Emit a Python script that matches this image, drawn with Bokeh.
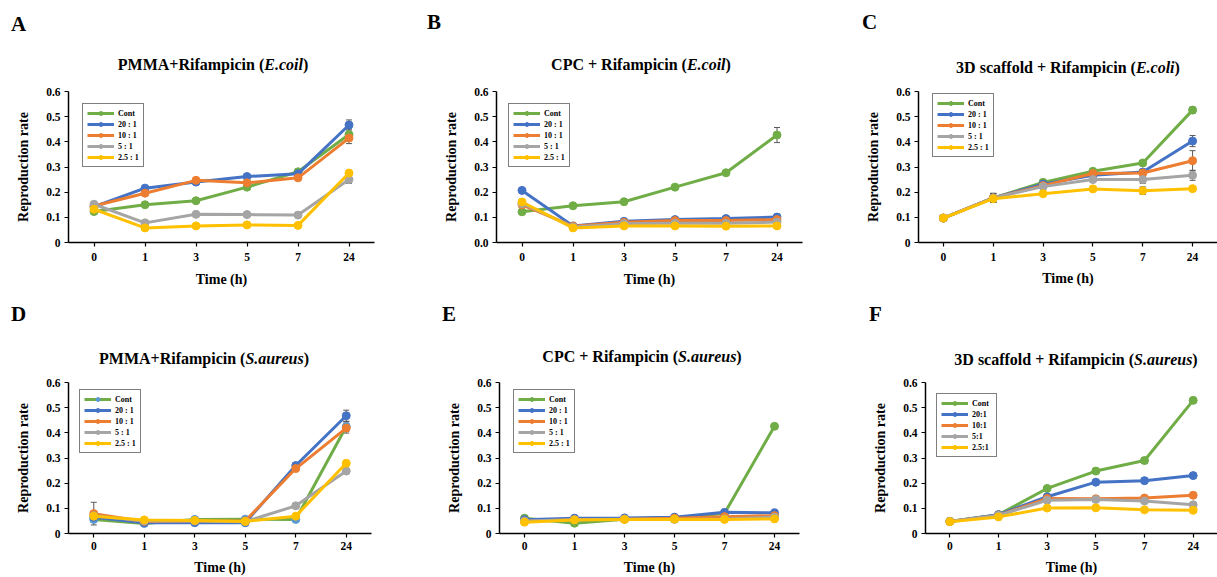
from bokeh.plotting import figure
from bokeh.models import (Range1d, FactorRange, FixedTicker, NumeralTickFormatter, Legend,
                          LegendItem, Whisker, ColumnDataSource, TeeHead, Div)
from bokeh.layouts import row, column
from bokeh.embed import file_html
from bokeh.resources import INLINE

# ---------------- data ----------------
times = ["0", "1", "3", "5", "7", "24"]
names = ["Cont", "20 : 1", "10 : 1", "5 : 1", "2.5 : 1"]
names_f = ["Cont", "20:1", "10:1", "5:1", "2.5:1"]
colors = ["#70AD47", "#4472C4", "#ED7D31", "#A5A5A5", "#FFC000"]
letters = ["A", "B", "C", "D", "E", "F"]
titles = [("PMMA+Rifampicin (", "E.coil", ")"),
          ("CPC + Rifampicin (", "E.coil", ")"),
          ("3D scaffold + Rifampicin (", "E.coli", ")"),
          ("PMMA+Rifampicin (", "S.aureus", ")"),
          ("CPC + Rifampicin (", "S.aureus", ")"),
          ("3D scaffold + Rifampicin (", "S.aureus", ")")]

# A: PMMA + Rifampicin (E.coli)
a_cont = [0.123, 0.150, 0.166, 0.220, 0.281, 0.429]
a_20 = [0.142, 0.216, 0.240, 0.262, 0.273, 0.467]
a_10 = [0.145, 0.196, 0.247, 0.237, 0.257, 0.415]
a_5 = [0.152, 0.078, 0.112, 0.111, 0.109, 0.250]
a_25 = [0.132, 0.058, 0.066, 0.070, 0.068, 0.276]
a_err = [[0.008, 0.005, 0.005, 0.006, 0.008, 0.022],
         [0.008, 0.005, 0.005, 0.005, 0.005, 0.020],
         [0.008, 0.005, 0.005, 0.008, 0.008, 0.022],
         [0.008, 0.005, 0.005, 0.005, 0.005, 0.015],
         [0.008, 0.004, 0.004, 0.004, 0.004, 0.010]]

# B: CPC + Rifampicin (E.coli)
b_cont = [0.122, 0.146, 0.162, 0.220, 0.277, 0.427]
b_20 = [0.207, 0.066, 0.084, 0.091, 0.095, 0.101]
b_10 = [0.150, 0.065, 0.080, 0.087, 0.087, 0.091]
b_5 = [0.155, 0.062, 0.075, 0.076, 0.076, 0.081]
b_25 = [0.161, 0.058, 0.066, 0.066, 0.065, 0.066]
b_err = [[0.008, 0.004, 0.004, 0.004, 0.005, 0.030],
         [0.010, 0.004, 0.004, 0.004, 0.005, 0.012],
         [0.006, 0.004, 0.004, 0.004, 0.004, 0.008],
         [0.006, 0.004, 0.004, 0.004, 0.004, 0.006],
         [0.006, 0.004, 0.004, 0.004, 0.004, 0.004]]

# C: 3D scaffold + Rifampicin (E.coli)
c_cont = [0.097, 0.177, 0.239, 0.283, 0.316, 0.526]
c_20 = [0.097, 0.177, 0.232, 0.267, 0.280, 0.403]
c_10 = [0.097, 0.177, 0.226, 0.274, 0.276, 0.325]
c_5 = [0.097, 0.177, 0.222, 0.250, 0.250, 0.267]
c_25 = [0.097, 0.174, 0.194, 0.213, 0.206, 0.214]
c_err = [[0.004, 0.018, 0.006, 0.005, 0.005, 0.012],
         [0.004, 0.018, 0.006, 0.005, 0.005, 0.022],
         [0.004, 0.018, 0.006, 0.005, 0.005, 0.040],
         [0.004, 0.018, 0.006, 0.005, 0.015, 0.020],
         [0.004, 0.015, 0.005, 0.005, 0.015, 0.005]]

# D: PMMA + Rifampicin (S.aureus)
d_cont = [0.056, 0.040, 0.056, 0.057, 0.056, 0.425]
d_20 = [0.065, 0.043, 0.043, 0.043, 0.270, 0.468]
d_10 = [0.079, 0.048, 0.050, 0.050, 0.258, 0.419]
d_5 = [0.071, 0.050, 0.050, 0.047, 0.110, 0.248]
d_25 = [0.069, 0.054, 0.052, 0.048, 0.069, 0.279]
d_err = [[0.010, 0.004, 0.004, 0.004, 0.004, 0.020],
         [0.015, 0.004, 0.004, 0.004, 0.006, 0.022],
         [0.045, 0.004, 0.004, 0.004, 0.006, 0.020],
         [0.010, 0.004, 0.004, 0.004, 0.006, 0.010],
         [0.010, 0.004, 0.004, 0.004, 0.004, 0.008]]

# E: CPC + Rifampicin (S.aureus)
e_cont = [0.061, 0.041, 0.057, 0.059, 0.080, 0.426]
e_20 = [0.055, 0.061, 0.062, 0.065, 0.084, 0.082]
e_10 = [0.049, 0.055, 0.057, 0.061, 0.067, 0.071]
e_5 = [0.050, 0.055, 0.057, 0.056, 0.058, 0.065]
e_25 = [0.045, 0.054, 0.056, 0.057, 0.056, 0.058]
e_err = [[0.010, 0.004, 0.003, 0.003, 0.004, 0.004],
         [0.004, 0.003, 0.003, 0.003, 0.010, 0.004],
         [0.003, 0.003, 0.003, 0.003, 0.003, 0.003],
         [0.003, 0.003, 0.003, 0.003, 0.003, 0.003],
         [0.003, 0.003, 0.003, 0.003, 0.003, 0.003]]

# F: 3D scaffold + Rifampicin (S.aureus)
f_cont = [0.048, 0.075, 0.179, 0.248, 0.290, 0.529]
f_20 = [0.048, 0.075, 0.146, 0.204, 0.210, 0.230]
f_10 = [0.048, 0.072, 0.139, 0.138, 0.141, 0.152]
f_5 = [0.048, 0.072, 0.132, 0.135, 0.129, 0.114]
f_25 = [0.047, 0.066, 0.101, 0.102, 0.094, 0.092]
f_err = [[0.003, 0.004, 0.005, 0.005, 0.012, 0.006],
         [0.003, 0.004, 0.005, 0.006, 0.005, 0.010],
         [0.003, 0.003, 0.004, 0.004, 0.006, 0.006],
         [0.003, 0.003, 0.004, 0.004, 0.006, 0.006],
         [0.003, 0.003, 0.004, 0.004, 0.004, 0.004]]

FONT = "Liberation Serif"


def make_panel(cfg):
    figx, figy, fw, fh = cfg["fig"]
    L, R, T, B = cfg["frame"]
    p = figure(width=fw, height=fh, x_range=FactorRange(factors=times),
               y_range=Range1d(0, 0.6), output_backend="svg", toolbar_location=None,
               title=None,
               min_border_left=L - figx, min_border_right=figx + fw - R,
               min_border_top=T - figy, min_border_bottom=figy + fh - B)
    p.outline_line_color = None
    p.xgrid.grid_line_color = None
    p.ygrid.grid_line_color = None
    p.background_fill_color = "white"
    p.border_fill_color = "white"

    for ax in (p.xaxis[0], p.yaxis[0]):
        ax.axis_line_color = "black"
        ax.axis_line_width = 1.5
        ax.major_tick_line_color = "black"
        ax.major_tick_line_width = 1.2
        ax.major_tick_out = 4
        ax.major_tick_in = 0
        ax.minor_tick_line_color = None
        ax.major_label_text_font = FONT
        ax.major_label_text_font_style = "bold"
        ax.major_label_text_font_size = "11.5px"
        ax.major_label_text_color = "black"
        ax.axis_label_text_font = FONT
        ax.axis_label_text_font_style = "bold"
        ax.axis_label_text_font_size = "14px"
        ax.axis_label_text_color = "black"

    p.xaxis.axis_label = "Time (h)"
    p.xaxis.major_label_standoff = cfg["xstand"][0]
    p.xaxis.axis_label_standoff = cfg["xstand"][1]
    p.yaxis.axis_label = "Reproduction rate"
    p.yaxis.major_label_standoff = 4
    p.yaxis.axis_label_standoff = 12
    p.yaxis.ticker = FixedTicker(ticks=[0, 0.1, 0.2, 0.3, 0.4, 0.5, 0.6])
    p.yaxis.formatter = NumeralTickFormatter(format="0.0")
    if cfg["zero"]:
        p.yaxis.major_label_overrides = {0: "0"}

    items = []
    for k, (vals, err) in enumerate(zip(cfg["series"], cfg["err"])):
        col = colors[k]
        mcol = cfg.get("cont_marker", col) if k == 0 else col
        src = ColumnDataSource(dict(x=times, y=vals,
                                    upper=[v + e for v, e in zip(vals, err)],
                                    lower=[v - e for v, e in zip(vals, err)]))
        w = Whisker(source=src, base="x", upper="upper", lower="lower",
                    line_color="#595959", line_width=1,
                    upper_head=TeeHead(size=6, line_color="#595959", line_width=1),
                    lower_head=TeeHead(size=6, line_color="#595959", line_width=1))
        p.add_layout(w)
        lr = p.line("x", "y", source=src, line_color=col, line_width=3)
        sr = p.scatter("x", "y", source=src, marker="circle", size=8,
                       fill_color=mcol, line_color=mcol)
        items.append(LegendItem(label=cfg["names"][k], renderers=[lr, sr]))

    lx, ly = cfg["legend"]
    leg = Legend(items=items, location=(lx - L, B - ly), orientation="vertical",
                 border_line_color="black", border_line_width=1.5,
                 background_fill_color="white", background_fill_alpha=1.0,
                 label_text_font=FONT, label_text_font_style="bold",
                 label_text_font_size="8px", label_text_color="black",
                 glyph_width=27, glyph_height=10, label_height=10, label_standoff=4,
                 spacing=1, padding=4, margin=0)
    p.add_layout(leg, "center")
    return p


PAGE_W = 1217


def header(top, height, entries):
    """entries: (letter, letter_x, letter_cy, title_parts, title_cx, title_cy) in page px"""
    parts = []
    for let, lx, lcy, tparts, tcx, tcy in entries:
        parts.append(
            '<span style="position:absolute;left:%dpx;top:%dpx;transform:translate(0,-50%%);'
            'font-size:21px;line-height:1;font-weight:bold;white-space:nowrap;">%s</span>'
            % (lx, lcy - top, let))
        parts.append(
            '<span style="position:absolute;left:%dpx;top:%dpx;transform:translate(-50%%,-50%%);'
            'font-size:16px;line-height:1;font-weight:bold;white-space:nowrap;">%s<i>%s</i>%s</span>'
            % (tcx, tcy - top, tparts[0], tparts[1], tparts[2]))
    html = ('<div style="position:relative;width:%dpx;height:%dpx;'
            'font-family:\'Liberation Serif\';color:black;">%s</div>'
            % (PAGE_W, height, "".join(parts)))
    return Div(text=html, width=PAGE_W, height=height, margin=0)


panels = [
    dict(fig=(0, 83, 408, 215), frame=(68, 374, 90, 242), xstand=(6, 8), zero=True,
         series=[a_cont, a_20, a_10, a_5, a_25], err=a_err, names=names,
         legend=(82, 167)),
    dict(fig=(408, 83, 400, 215), frame=(496, 802, 91, 242), xstand=(6, 8), zero=False,
         series=[b_cont, b_20, b_10, b_5, b_25], err=b_err, names=names,
         legend=(508, 167)),
    dict(fig=(808, 83, 409, 215), frame=(918, 1217, 89, 244), xstand=(6, 7), zero=True,
         series=[c_cont, c_20, c_10, c_5, c_25], err=c_err, names=names,
         legend=(932, 159)),
    dict(fig=(0, 370, 408, 207), frame=(68, 371, 377, 533), xstand=(4, 7), zero=True,
         series=[d_cont, d_20, d_10, d_5, d_25], err=d_err, names=names,
         cont_marker="#5B9BD5", legend=(79, 453)),
    dict(fig=(408, 370, 400, 207), frame=(499, 799, 382, 533), xstand=(4, 7), zero=True,
         series=[e_cont, e_20, e_10, e_5, e_25], err=e_err, names=names,
         legend=(513, 453)),
    dict(fig=(808, 370, 409, 207), frame=(925, 1217, 382, 533), xstand=(4, 7), zero=True,
         series=[f_cont, f_20, f_10, f_5, f_25], err=f_err, names=names_f,
         legend=(936, 457)),
]

figs = [make_panel(c) for c in panels]

head1 = header(0, 83, [
    (letters[0], 11, 24, titles[0], 213, 65),
    (letters[1], 427, 22, titles[1], 641, 65),
    (letters[2], 862, 22, titles[2], 1068, 68)])
head2 = header(298, 72, [
    (letters[3], 11, 314, titles[3], 204, 359),
    (letters[4], 442, 314, titles[4], 642, 357),
    (letters[5], 869, 314, titles[5], 1076, 360)])

layout = column(head1,
                row(figs[0], figs[1], figs[2], spacing=0),
                head2,
                row(figs[3], figs[4], figs[5], spacing=0), spacing=0)

open("out.html", "w").write(file_html(layout, INLINE))
